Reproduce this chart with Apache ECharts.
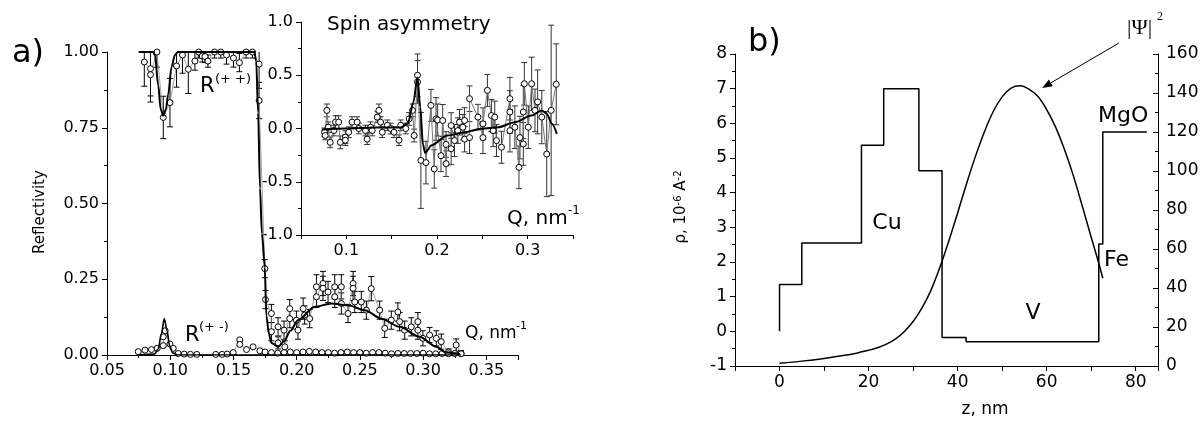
<!DOCTYPE html>
<html><head><meta charset="utf-8">
<script src="https://cdn.jsdelivr.net/npm/echarts@6/dist/echarts.min.js"></script>
<style>html,body{margin:0;padding:0;background:#fff}#c{width:1203px;height:423px}</style>
</head><body><div id="c"></div>
<script>
// ---------- DATA ----------
// Panel a: reflectivity R(++) fit  [Q, R]
const rppFit = [[0.075,1.0],[0.0865,1.0],[0.0879,0.99],[0.0905,0.89],[0.0925,0.81],[0.0945,0.79],[0.0965,0.81],[0.0984,0.86],[0.101,0.95],[0.1037,0.99],[0.106,1.0],[0.1665,1.0],[0.168,0.97],[0.1695,0.8],[0.171,0.55],[0.1725,0.4],[0.1748,0.29],[0.176,0.13],[0.178,0.07],[0.18,0.04],[0.1853,0.027],[0.19,0.045],[0.195,0.08],[0.201,0.115],[0.2143,0.159],[0.2275,0.17],[0.2406,0.164],[0.2538,0.148],[0.267,0.12],[0.2814,0.093],[0.2972,0.06],[0.3104,0.027],[0.318,0.008],[0.329,0.003]];
// R(+-) fit
const rpmFit = [[0.075,0.0],[0.0875,0.003],[0.0905,0.02],[0.093,0.07],[0.0953,0.12],[0.0975,0.08],[0.0995,0.03],[0.102,0.007],[0.106,0.0],[0.33,0.0]];
// R(++) measured [Q, R, error]
const rppData = [[0.0795,0.967,0.08],[0.0844,0.945,0.09],[0.0844,0.925,0.09],[0.0895,1.0,0.05],[0.0945,0.784,0.07],[0.0998,0.833,0.08],[0.105,0.954,0.07],[0.1097,0.99,0.06],[0.1143,0.943,0.08],[0.1195,0.97,0.03],[0.1225,1.0,0.02],[0.1253,0.987,0.02],[0.1275,0.985,0.02],[0.1298,0.97,0.02],[0.135,1.0,0.02],[0.14,1.0,0.02],[0.1445,0.99,0.03],[0.15,0.98,0.03],[0.1547,0.965,0.03],[0.16,1.0,0.02],[0.165,1.0,0.02],[0.1703,0.96,0.08],[0.1703,0.84,0.06],
 [0.1748,0.285,0.03],[0.1753,0.183,0.03],[0.18,0.137,0.03],[0.18,0.077,0.03],[0.1853,0.093,0.03],[0.1853,0.04,0.02],[0.19,0.082,0.03],[0.1906,0.027,0.02],[0.1945,0.153,0.03],[0.1945,0.12,0.03],[0.1998,0.115,0.03],[0.201,0.082,0.03],[0.2051,0.153,0.035],[0.2063,0.132,0.03],[0.2103,0.12,0.03],[0.2156,0.225,0.04],[0.2156,0.192,0.035],[0.2208,0.236,0.04],[0.2208,0.22,0.04],[0.2248,0.208,0.035],[0.2301,0.225,0.04],[0.2301,0.192,0.035],[0.2353,0.225,0.04],[0.2353,0.17,0.035],[0.2406,0.137,0.03],[0.2446,0.236,0.04],[0.2446,0.22,0.04],[0.2459,0.175,0.035],[0.2511,0.175,0.035],[0.2551,0.148,0.03],[0.259,0.219,0.04],[0.2656,0.148,0.03],[0.2696,0.088,0.03],[0.2748,0.115,0.03],[0.28,0.142,0.03],[0.2814,0.11,0.03],[0.2854,0.082,0.03],[0.2906,0.093,0.03],[0.2958,0.11,0.03],[0.2958,0.082,0.03],[0.2998,0.055,0.025],[0.3051,0.066,0.025],[0.3104,0.055,0.025],[0.3143,0.044,0.025],[0.32,0.01,0.01],[0.3261,0.033,0.02],[0.33,0.005,0.01]];
// R(+-) measured [Q, R]
const rpmData = [[0.0747,0.011],[0.08,0.016],[0.0852,0.018],[0.0897,0.022],[0.0945,0.031],[0.0945,0.06],[0.096,0.08],[0.0998,0.036],[0.1024,0.022],[0.1063,0.005],[0.111,0.003],[0.116,0.002],[0.121,0.002],[0.136,0.002],[0.141,0.002],[0.145,0.003],[0.1498,0.008],[0.155,0.05],[0.155,0.035],[0.1603,0.018],[0.1655,0.027],[0.1709,0.014],[0.175,0.01],[0.18,0.008],[0.185,0.006],[0.19,0.008],[0.195,0.01],[0.2,0.008],[0.205,0.01],[0.21,0.012],[0.215,0.01],[0.22,0.008],[0.225,0.008],[0.23,0.006],[0.235,0.008],[0.24,0.01],[0.245,0.008],[0.25,0.008],[0.255,0.006],[0.26,0.008],[0.265,0.008],[0.27,0.006],[0.275,0.004],[0.28,0.005],[0.285,0.005],[0.29,0.005],[0.295,0.005],[0.3,0.006],[0.305,0.004],[0.31,0.004],[0.315,0.005],[0.32,0.004],[0.325,0.005],[0.33,0.004]];
// Inset: spin asymmetry fit [Q, A]
const asymFit = [[0.073,-0.01],[0.1,0.0],[0.13,0.01],[0.16,0.01],[0.168,0.05],[0.174,0.25],[0.1785,0.48],[0.1815,0.2],[0.1845,-0.15],[0.187,-0.23],[0.19,-0.2],[0.1933,-0.16],[0.2115,-0.066],[0.2304,-0.035],[0.2489,-0.003],[0.2674,0.012],[0.2859,0.059],[0.3044,0.122],[0.3156,0.17],[0.321,0.139],[0.3267,0.044],[0.3322,-0.05]];
// Inset: spin asymmetry measured [Q, A, error]
const asymData = [[0.0759,-0.035,0.04],[0.0767,-0.066,0.04],[0.0785,0.17,0.06],[0.08,0.012,0.05],[0.0822,-0.13,0.05],[0.0863,-0.019,0.05],[0.0881,0.06,0.06],[0.0915,0.06,0.06],[0.0933,-0.13,0.06],[0.0989,-0.082,0.06],[0.0989,-0.11,0.05],[0.1026,-0.035,0.05],[0.1063,0.06,0.05],[0.1119,0.06,0.05],[0.1137,0,0.05],[0.1211,-0.019,0.05],[0.123,-0.1,0.05],[0.1267,0.012,0.05],[0.1285,-0.019,0.05],[0.1341,0.107,0.05],[0.1359,0.17,0.06],[0.1378,0.06,0.05],[0.1396,-0.035,0.05],[0.1452,0.03,0.05],[0.1489,0,0.05],[0.1526,-0.035,0.05],[0.1581,-0.11,0.05],[0.16,0.03,0.05],[0.1656,0,0.05],[0.1693,0.09,0.06],[0.173,0.17,0.06],[0.1748,-0.066,0.06],[0.1785,0.437,0.2],[0.1785,0.5,0.2],[0.1822,-0.30,0.45],[0.1878,-0.32,0.2],[0.1933,0.217,0.15],[0.197,-0.38,0.18],[0.1989,0.09,0.2],[0.2007,0.08,0.15],[0.2044,-0.255,0.15],[0.2063,0.075,0.15],[0.21,-0.33,0.12],[0.21,-0.15,0.12],[0.2156,-0.19,0.15],[0.2156,0.028,0.12],[0.2193,-0.113,0.15],[0.223,-0.02,0.12],[0.2248,0.059,0.12],[0.2285,0.012,0.12],[0.2304,0.075,0.12],[0.2304,-0.1,0.12],[0.2359,-0.085,0.15],[0.2359,0.28,0.12],[0.2452,0.107,0.12],[0.2507,-0.085,0.15],[0.2507,0.044,0.15],[0.2556,0.358,0.15],[0.26,0.122,0.15],[0.2619,-0.02,0.15],[0.2637,0.107,0.15],[0.2656,-0.113,0.15],[0.2711,-0.176,0.15],[0.2804,0.28,0.2],[0.2804,0.155,0.2],[0.2804,-0.02,0.2],[0.2859,0.012,0.2],[0.2904,-0.365,0.2],[0.2915,-0.085,0.2],[0.2952,-0.145,0.2],[0.2952,0.155,0.25],[0.2963,0.42,0.2],[0.3007,0.012,0.2],[0.3044,0.42,0.25],[0.3081,0.17,0.2],[0.311,0.25,0.3],[0.3156,0.107,0.25],[0.321,-0.24,0.4],[0.3259,0.17,0.8],[0.3315,0.415,0.38]];
// Panel b: SLD profile [z nm, rho 1e-6 A^-2]
const rhoProfile = [[0,0],[0,1.35],[5,1.35],[5,2.55],[18.4,2.55],[18.4,5.37],[23.4,5.37],[23.4,7.0],[31.3,7.0],[31.3,4.63],[36.5,4.63],[36.5,-0.18],[41.9,-0.18],[41.9,-0.30],[71.7,-0.30],[71.7,2.52],[72.6,2.52],[72.6,5.75],[82.5,5.75]];
// Panel b: |Psi|^2 (right axis) [z nm, value]
const psi2 = [[0,1.4],[5,2.5],[10,3.9],[15,5.6],[18,7.0],[20,8.1],[22,9.4],[24,11.2],[26,13.8],[28,17.6],[30,22.8],[32,29.8],[34,38.8],[36,50.5],[38,64],[40,78.5],[42,93.5],[44,107.5],[46,120],[48,130.5],[50,138],[52,142.5],[54,143.7],[56,142],[58,138.3],[60,131.5],[62,122.5],[64,111],[66,97.5],[68,82],[70,66],[71.7,52.7],[72.6,45]];
// Arrow annotation (in panel b coordinates: z, right axis)
const arrowFrom = [76.2,165.6], arrowTo = [59,142.6];

// ---------- CHART ----------
const F = 'DejaVu Sans';
const chart = echarts.init(document.getElementById('c'), null, {renderer:'canvas'});

function ax(extra, labelFmt, labelSize){
  const a = {
    type:'value', splitLine:{show:false},
    axisLine:{show:true,onZero:false,lineStyle:{color:'#000',width:1}},
    axisTick:{show:true,length:5,lineStyle:{color:'#000',width:1}},
    minorTick:{show:true,splitNumber:2,length:3,lineStyle:{color:'#000',width:1}},
    axisLabel:{color:'#000',fontFamily:F,fontSize:labelSize||16,formatter:labelFmt,margin:8}
  };
  return Object.assign(a, extra);
}
function onStep(step, dec){
  return v => { const k = v/step; return Math.abs(k-Math.round(k))<1e-6 ? (dec==null?String(Math.round(v)):v.toFixed(dec)) : ''; };
}
function errBar(color){
  return function(params, api){
    const x=api.value(0), y=api.value(1), e=api.value(2);
    const t=api.coord([x,y+e]), b=api.coord([x,y-e]); const w=3;
    const st={stroke:color,lineWidth:1};
    return {type:'group',children:[
      {type:'line',shape:{x1:t[0],y1:t[1],x2:b[0],y2:b[1]},style:st},
      {type:'line',shape:{x1:t[0]-w,y1:t[1],x2:t[0]+w,y2:t[1]},style:st},
      {type:'line',shape:{x1:b[0]-w,y1:b[1],x2:b[0]+w,y2:b[1]},style:st}]};
  };
}
const sym = {symbol:'circle',symbolSize:6,showSymbol:true,showAllSymbol:true,itemStyle:{color:'#fff',borderColor:'#000',borderWidth:1}};

const option = {
  animation:false,
  backgroundColor:'#fff',
  grid:[
    {left:107,top:52,width:411,height:303},
    {left:301,top:22,width:272,height:213},
    {left:735,top:54,width:423,height:312}
  ],
  xAxis:[
    ax({gridIndex:0,min:0.05,max:0.375,interval:0.05}, onStep(0.05,2)),
    ax({gridIndex:1,min:0.05,max:0.35,interval:0.05,minorTick:{show:false},axisTick:{show:true,length:4,lineStyle:{color:'#000'}}}, onStep(0.1,1)),
    ax({gridIndex:2,min:-10,max:85,interval:10,minorTick:{show:false}}, v => (v%20===0 && v<=80) ? String(v) : '', 17)
  ],
  yAxis:[
    ax({gridIndex:0,min:0,max:1,interval:0.25}, v => v.toFixed(2)),
    ax({gridIndex:1,min:-1,max:1,interval:0.5}, v => v.toFixed(1)),
    ax({gridIndex:2,min:-1,max:8,interval:1}, v => String(v), 17),
    ax({gridIndex:2,min:0,max:160,interval:20,position:'right',axisTick:{show:true,inside:true,length:5,lineStyle:{color:'#000'}},minorTick:{show:true,inside:true,splitNumber:2,length:3,lineStyle:{color:'#000'}}}, v => String(v), 17)
  ],
  series:[
    {type:'custom',name:'R++ err',xAxisIndex:0,yAxisIndex:0,data:rppData,renderItem:errBar('#000'),clip:true,silent:true,z:2},
    {type:'line',name:'R++',xAxisIndex:0,yAxisIndex:0,data:rppData.map(d=>[d[0],d[1]]),lineStyle:{color:'#888',width:0.8},...sym,z:3},
    {type:'line',name:'R+-',xAxisIndex:0,yAxisIndex:0,data:rpmData,lineStyle:{color:'#888',width:0.8},...sym,z:3},
    {type:'line',name:'R++ fit',xAxisIndex:0,yAxisIndex:0,data:rppFit,showSymbol:false,smooth:0.3,smoothMonotone:'x',lineStyle:{color:'#000',width:2},z:4},
    {type:'line',name:'R+- fit',xAxisIndex:0,yAxisIndex:0,data:rpmFit,showSymbol:false,smooth:0.3,smoothMonotone:'x',lineStyle:{color:'#000',width:1.6},z:4},
    {type:'custom',name:'asym err',xAxisIndex:1,yAxisIndex:1,data:asymData,renderItem:errBar('#333'),clip:true,silent:true,z:5},
    {type:'line',name:'asym',xAxisIndex:1,yAxisIndex:1,data:asymData.map(d=>[d[0],d[1]]),lineStyle:{color:'#777',width:1},...sym,z:6},
    {type:'line',name:'asym fit',xAxisIndex:1,yAxisIndex:1,data:asymFit,showSymbol:false,smooth:0.3,smoothMonotone:'x',lineStyle:{color:'#000',width:2},z:7},
    {type:'line',name:'rho',xAxisIndex:2,yAxisIndex:2,data:rhoProfile,showSymbol:false,lineStyle:{color:'#000',width:1.5}},
    {type:'line',name:'psi2',xAxisIndex:2,yAxisIndex:3,data:psi2,showSymbol:false,smooth:0.3,lineStyle:{color:'#000',width:1.5}}
  ]
};
chart.setOption(option);

function T(x,y,text,size,o){
  o=o||{};
  return {type:'text',x:x,y:y,rotation:o.rot||0,z:100,
    style:{text:text,fontSize:size,fontFamily:o.font||F,fill:'#000',align:o.align||'left',verticalAlign:'middle',rich:o.rich}};
}
const p1 = chart.convertToPixel({xAxisIndex:2,yAxisIndex:3}, arrowFrom);
const p2 = chart.convertToPixel({xAxisIndex:2,yAxisIndex:3}, arrowTo);
const ang = Math.atan2(p2[1]-p1[1], p2[0]-p1[0]);
const hl=10, hw=4;
const bx=p2[0]-hl*Math.cos(ang), by=p2[1]-hl*Math.sin(ang);
const head=[[p2[0],p2[1]],[bx+hw*Math.sin(ang),by-hw*Math.cos(ang)],[bx-hw*Math.sin(ang),by+hw*Math.cos(ang)]];

chart.setOption({graphic:[
  T(12,54,'a)',32),
  T(748,43,'b)',32),
  T(40,212,'Reflectivity',15,{rot:Math.PI/2,align:'center'}),
  T(200,87,'R',21), T(215,80,'(+ +)',13),
  T(185,336,'R',21), T(199,328,'(+ -)',13),
  T(465,334,'Q, nm',17), T(516,326,'-1',11),
  T(507,219,'Q, nm',20), T(568,211,'-1',12),
  T(327,25,'Spin asymmetry',20),
  T(681,207,'ρ, 10{s|-6} A{s|-2}',15,{rot:Math.PI/2,align:'center',rich:{s:{fontSize:10,fontFamily:F,verticalAlign:'top',padding:[0,0,6,0]}}}),
  T(985,410,'z, nm',17,{align:'center'}),
  T(887,223,'Cu',22,{align:'center'}),
  T(1033,313,'V',22,{align:'center'}),
  T(1104,260,'Fe',22),
  T(1098,116,'MgO',22),
  T(1127,28,'|Ψ|',22,{font:'Liberation Serif'}), T(1157,17,'2',12,{font:'Liberation Serif'}),
  {type:'line',z:100,shape:{x1:p1[0],y1:p1[1],x2:bx,y2:by},style:{stroke:'#000',lineWidth:1}},
  {type:'polygon',z:100,shape:{points:head},style:{fill:'#000'}}
]});
</script></body></html>
